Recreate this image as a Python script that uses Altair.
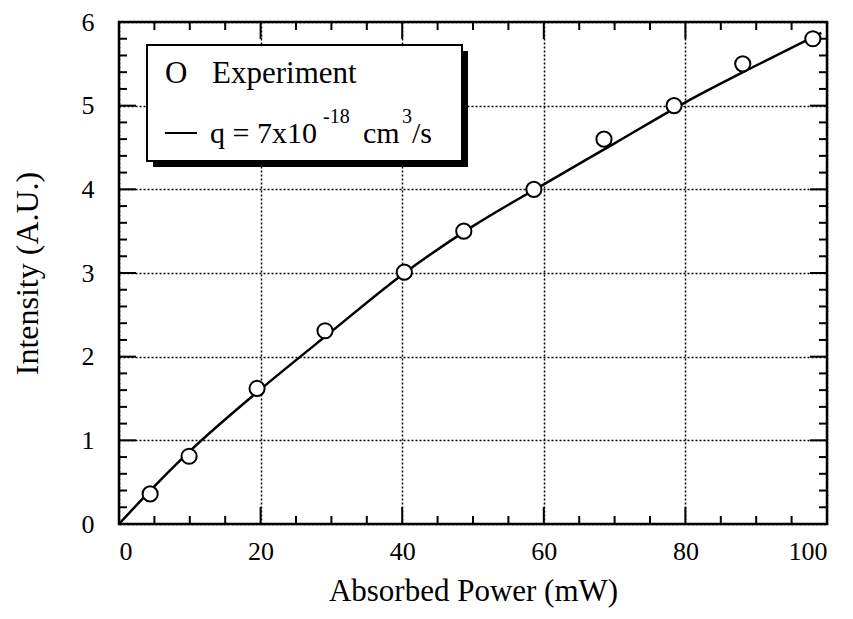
import altair as alt
import pandas as pd

power_exp = [4.4, 9.9, 19.5, 29.1, 40.3, 48.7, 58.6, 68.5, 78.4, 88.1, 98.0]
intensity_exp = [0.36, 0.81, 1.62, 2.31, 3.01, 3.50, 4.00, 4.60, 5.00, 5.50, 5.80]

# Fit curve q = 7x10^-18 cm^3/s
power_fit = [0, 5, 10, 20, 30, 40, 50, 60, 70, 80, 90, 99.2]
intensity_fit = [0, 0.45, 0.87, 1.61, 2.30, 2.98, 3.56, 4.06, 4.55, 5.04, 5.48, 5.87]

x_major = [20, 40, 60, 80]
x_minor = [v for v in range(5, 100, 5) if v % 20 != 0]
y_major = [1, 2, 3, 4, 5]
y_minor = [round(i * 0.2, 1) for i in range(1, 30) if i % 5 != 0]

W, H = 708, 502
FONT = "Liberation Serif"

exp_df = pd.DataFrame({"P": power_exp, "I": intensity_exp})
fit_df = pd.DataFrame({"P": power_fit, "I": intensity_fit})

xs = alt.Scale(domain=[0, 100], nice=False, zero=False)
ys = alt.Scale(domain=[0, 6], nice=False, zero=False)

xaxis = alt.Axis(values=[0, 20, 40, 60, 80, 100], format="d", title="Absorbed Power (mW)",
                 tickSize=0, domain=False, labelFont=FONT, labelFontSize=26,
                 labelColor="black", labelPadding=14, titleFont=FONT,
                 titleFontSize=31, titleFontWeight="normal", titleColor="black",
                 titlePadding=12, grid=True, gridColor="black", gridDash=[2, 2],
                 gridWidth=1.5, gridOpacity=1)
yaxis = alt.Axis(values=[0, 1, 2, 3, 4, 5, 6], format="d", title="Intensity  (A.U.)",
                 tickSize=0, domain=False, labelFont=FONT, labelFontSize=26,
                 labelColor="black", labelPadding=25, titleFont=FONT,
                 titleFontSize=32, titleFontWeight="normal", titleColor="black",
                 titlePadding=37, grid=True, gridColor="black", gridDash=[2, 2],
                 gridWidth=1.5, gridOpacity=1)

base_grid = alt.Chart(fit_df).mark_line(opacity=0).encode(
    x=alt.X("P:Q", scale=xs, axis=xaxis),
    y=alt.Y("I:Q", scale=ys, axis=yaxis),
)

fit_line = alt.Chart(fit_df).mark_line(color="black", strokeWidth=2.5,
                                       interpolate="monotone").encode(
    x=alt.X("P:Q", scale=xs), y=alt.Y("I:Q", scale=ys))

points = alt.Chart(exp_df).mark_point(shape="circle", size=230, strokeWidth=2,
                                      stroke="black", fill="white",
                                      fillOpacity=1, filled=True).encode(
    x=alt.X("P:Q", scale=xs), y=alt.Y("I:Q", scale=ys))


def xticks(vals, length):
    d = pd.DataFrame({"v": vals})
    b = alt.Chart(d).mark_rule(color="black", strokeWidth=2)
    bottom = b.encode(x=alt.X("v:Q", scale=xs), y=alt.value(H), y2=alt.value(H - length))
    top = b.encode(x=alt.X("v:Q", scale=xs), y=alt.value(0), y2=alt.value(length))
    return [bottom, top]


def yticks(vals, length):
    d = pd.DataFrame({"v": vals})
    b = alt.Chart(d).mark_rule(color="black", strokeWidth=2)
    left = b.encode(y=alt.Y("v:Q", scale=ys), x=alt.value(0), x2=alt.value(length))
    right = b.encode(y=alt.Y("v:Q", scale=ys), x=alt.value(W), x2=alt.value(W - length))
    return [left, right]


ticks = xticks(x_major, 17) + xticks(x_minor, 8) + yticks(y_major, 17) + yticks(y_minor, 8)

one = alt.Data(values=[{"k": 0}])
shadow = alt.Chart(one).mark_rect(color="black").encode(
    x=alt.value(34), x2=alt.value(349), y=alt.value(29), y2=alt.value(145))
box = alt.Chart(one).mark_rect(fill="white", stroke="black", strokeWidth=2).encode(
    x=alt.value(28), x2=alt.value(343), y=alt.value(23), y2=alt.value(139))


def txt(s, x, y, size=31):
    return alt.Chart(one).mark_text(align="left", baseline="alphabetic", font=FONT,
                                    fontSize=size, color="black").encode(
        x=alt.value(x), y=alt.value(y), text=alt.value(s))


dash = alt.Chart(one).mark_rule(color="black", strokeWidth=2).encode(
    x=alt.value(46), x2=alt.value(78), y=alt.value(111))

legend = [shadow, box,
          txt("O", 46, 61), txt("Experiment", 93, 61),
          dash,
          txt("q = 7x10", 91, 121, 30), txt("-18", 204, 101, 20),
          txt("cm", 244, 121, 30), txt("3", 283, 101, 20), txt("/s", 293, 121, 30)]

chart = alt.layer(base_grid, *ticks, fit_line, points, *legend).properties(
    width=W, height=H,
    autosize=alt.AutoSizeParams(type="none"),
    padding={"left": 111, "top": 14, "right": 18, "bottom": 95},
).configure_view(stroke="black", strokeWidth=2.5)

chart.save("out.html", embed_options={"renderer": "svg", "actions": False})
